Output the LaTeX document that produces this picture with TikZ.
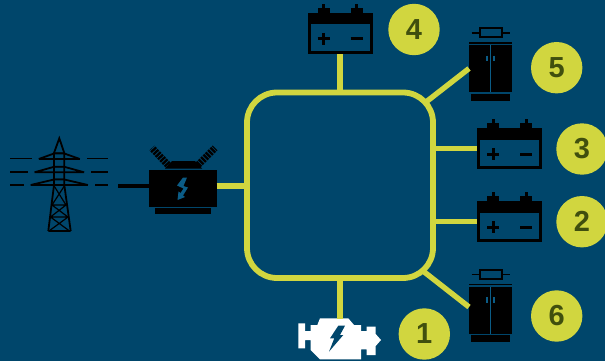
\documentclass[tikz,border=0pt]{standalone}
\usepackage{fontspec}
\setmainfont{Liberation Sans}
\usetikzlibrary{positioning,calc}
\definecolor{bgblue}{HTML}{00466B}
\definecolor{gridyellow}{HTML}{D1D63F}
\definecolor{numolive}{HTML}{404F0E}
\definecolor{boltblue}{HTML}{0B5C86}

\begin{document}
\begin{tikzpicture}[
  x=1pt,y=-1pt,
  ring/.style={draw=gridyellow,line width=5.8pt,rounded corners=30pt,minimum width=186pt,minimum height=185.5pt,inner sep=0pt,outer sep=0pt},
  feed/.style={draw=gridyellow,line width=5.4pt},
  num/.style={circle,fill=gridyellow,text=numolive,minimum size=51.4pt,inner sep=0pt,font=\fontsize{29}{29}\selectfont\bfseries},
  cell/.style={draw=black,line width=3pt,minimum width=62pt,minimum height=38pt,inner sep=0pt,outer sep=1.5pt},
  cabinet/.style={fill=black,minimum width=43pt,minimum height=47pt,inner sep=0pt,outer sep=0pt},
  wire/.style={draw=black,line width=1.9pt},
  battery/.pic={
    \node[cell] (-body) at (0,0) {};
    \fill[black] (-32.5,-20.5) rectangle (32.5,-9);
    \foreach \tx in {-16.5,16.5} {
      \fill[black] (\tx-6,-25.5) rectangle (\tx+6,-20);
      \fill[black] (\tx-1.5,-29.5) rectangle (\tx+1.5,-25);
    }
    \draw[black,line width=3pt] (-22.5,5.5) -- (-10.5,5.5) (-16.5,-0.5) -- (-16.5,11.5);
    \draw[black,line width=3pt] (10.5,5.5) -- (22.5,5.5);
  },
  panel/.pic={
    \node[cabinet] (-body) at (0,0) {};
    \fill[black] (-21.5,-26.2) rectangle (21.5,-24.6);
    \fill[black] (-19.5,25.3) rectangle (19.5,32);
    \draw[boltblue,line width=1pt] (0,-23.5) -- (0,23.5);
    \draw[boltblue,line width=1.8pt] (-3.7,-12.8) -- (-3.7,-7.5) (3.7,-12.8) -- (3.7,-7.5);
    \draw[black,line width=2pt] (-11,-40) rectangle (11,-31);
    \draw[black,line width=1.3pt] (-19,-35.5) -- (-11,-35.5) (11,-35.5) -- (19,-35.5);
  }
]
\useasboundingbox[fill=bgblue] (0,0) rectangle (605,361);

% centre ring
\node[ring] (bus) at (340,185.25) {};

% batteries and cabinets
\pic (bat4) at (340,33.5) {battery};
\pic (bat3) at (509.5,148.5) {battery};
\pic (bat2) at (509.5,221.5) {battery};
\pic (cab5) at (490.5,68.5) {panel};
\pic (cab6) at (490.5,310) {panel};

% number badges
\node[num] (n4) at (414,29.5) {4};
\node[num] (n5) at (556.7,67.7) {5};
\node[num] (n3) at (582,149) {3};
\node[num] (n2) at (582,221.7) {2};
\node[num] (n6) at (556.7,316) {6};
\node[num] (n1) at (424.3,334) {1};

% engine
\node[minimum width=83pt,minimum height=41pt,inner sep=0pt,outer sep=0pt] (engine) at (340,339) {};
\fill[white] (298.3,323.3) -- (305,323.3) -- (305,331) -- (310.7,331) -- (310.7,325) -- (317.3,325)
  -- (320,318.3) -- (348.3,318.3) -- (354,325) -- (361,325) -- (361,331) -- (366.7,331) -- (366.7,326.7)
  -- (375.7,326.7) -- (375.7,334) -- (381,340) -- (375.7,346) -- (375.7,355) -- (366.7,355) -- (366.7,349.3)
  -- (361,349.3) -- (361,359.3) -- (320,359.3) -- (310.7,350) -- (310.7,340) -- (305,340) -- (305,348.3)
  -- (298.3,348.3) -- cycle;
\fill[bgblue] (338.3,325.7) -- (345,325.7) -- (340,335) -- (343.3,335) -- (329,351.7) -- (334.3,338.3) -- (330,338.3) -- cycle;

% transformer
\node[fill=black,minimum width=67.4pt,minimum height=36.7pt,inner sep=0pt,outer sep=0pt] (trafo) at (183,188.3) {};
\fill[black] (155,208) rectangle (211,213.7);
\fill[black] (165,168.5) -- (172,161) -- (195,161) -- (202,168.5) -- cycle;
\draw[black,line width=7pt,dash pattern=on 2.3pt off 1pt] (168,165) -- (152,148);
\draw[black,line width=7pt,dash pattern=on 2.3pt off 1pt] (198,165) -- (215,148);
\fill[boltblue] (187,177.5) -- (183.5,186) -- (188,187.5) -- (183,195.5) -- (185,197) -- (177.5,200) -- (178.5,191.5)
  -- (180.5,193) -- (183.5,188.5) -- (177,185.5) -- (183,177.5) -- cycle;
\coordinate (leadend) at (118,185.8);
\draw[black,line width=3.8pt] (leadend) -- (trafo.west |- leadend);

% pylon
\draw[black,line width=1.8pt] (48.3,231) -- (70.7,231) (48.3,231) -- (54,185) -- (54,153) -- (59.3,138.3)
  -- (64.3,153) -- (64.3,185) -- (70.7,231);
\draw[black,line width=1.2pt] (54,153) -- (64.3,153) (54,166.7) -- (64.3,166.7) (54,179.3) -- (64.3,179.3)
  (53.5,185) -- (66,205) -- (50.5,217) -- (69.5,231) (65,185) -- (52,205) -- (68,217) -- (49,231) (52,205) -- (66,205) (50.5,217) -- (68,217);
\foreach \ay/\ax in {159/20.5,172.3/24.8,185/28.6} {
  \draw[black,line width=1.8pt] (59.3-\ax,\ay) -- (59.3+\ax,\ay) (59.3-\ax,\ay) -- (54,\ay-5.5) -- (64.3,\ay-5.5) -- (59.3+\ax,\ay);
}
\draw[wire] (10,158.5) -- (32,158.5) (87,158.5) -- (108,158.5);
\draw[wire] (10,172) -- (28,172) (91,172) -- (108,172);
\draw[wire] (10,185) -- (24,185) (95,185) -- (108,185);

% connectors
\coordinate (busne) at (426,102);
\coordinate (busse) at (423,271);
\draw[feed] (bus.north) -- (bat4-body.south);
\draw[feed] (bus.south) -- (engine.north);
\draw[feed] (bus.east |- bat3-body.west) -- (bat3-body.west);
\draw[feed] (bus.east |- bat2-body.west) -- (bat2-body.west);
\draw[feed] (busne) -- (cab5-body.west);
\draw[feed] (busse) -- ([yshift=3pt]cab6-body.west);
\draw[feed] (trafo.east |- leadend) -- (bus.west |- leadend);
\end{tikzpicture}
\end{document}
